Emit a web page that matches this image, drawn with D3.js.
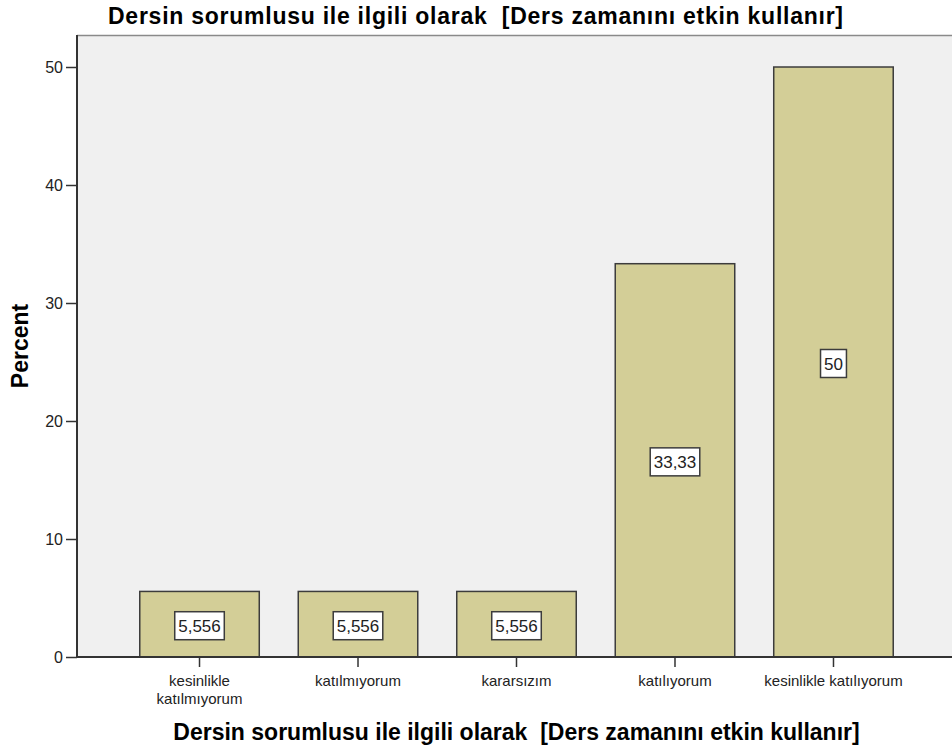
<!DOCTYPE html>
<html>
<head>
<meta charset="utf-8">
<script src="https://cdn.jsdelivr.net/npm/d3@7"></script>
<style>
  html, body { margin: 0; padding: 0; background: #fff; }
  svg { display: block; font-family: "Liberation Sans", Arial, sans-serif; }
  svg text { white-space: pre; }
</style>
</head>
<body>
<svg id="chart" width="952" height="753"></svg>
<script>
const categories = [["kesinlikle", "katılmıyorum"], ["katılmıyorum"], ["kararsızım"], ["katılıyorum"], ["kesinlikle katılıyorum"]];
const categoryKeys = ["kesinlikle katılmıyorum", "katılmıyorum", "kararsızım", "katılıyorum", "kesinlikle katılıyorum"];
const percentValues = [5.556, 5.556, 5.556, 33.33, 50];
const yTicks = [0, 10, 20, 30, 40, 50];
const chartTitle = "Dersin sorumlusu ile ilgili olarak  [Ders zamanını etkin kullanır]";
const xTitle = "Dersin sorumlusu ile ilgili olarak  [Ders zamanını etkin kullanır]";
const yTitle = "Percent";

const svg = d3.select("#chart");
const plot = { left: 77, top: 35, right: 956, bottom: 657 };

const x = d3.scaleBand().domain(categoryKeys).range([plot.left, plot.right])
  .paddingInner(0.246).paddingOuter(0.396);
const y = d3.scaleLinear().domain([0, 50]).range([plot.bottom, plot.bottom - 590]);

// plot background
svg.append("rect").attr("x", plot.left).attr("y", plot.top)
  .attr("width", 952 - plot.left + 5).attr("height", plot.bottom - plot.top)
  .attr("fill", "#f0f0f0");
// top frame
svg.append("line").attr("x1", plot.left).attr("x2", 952).attr("y1", plot.top + 0.5).attr("y2", plot.top + 0.5)
  .attr("stroke", "#8a8a8a").attr("stroke-width", 1.5);

// bars
svg.append("g").selectAll("rect").data(percentValues).join("rect")
  .attr("x", (d, i) => x(categoryKeys[i]))
  .attr("y", d => y(d))
  .attr("width", x.bandwidth())
  .attr("height", d => y(0) - y(d))
  .attr("fill", "#d3ce97")
  .attr("stroke", "#3c3c3c")
  .attr("stroke-width", 1.5);

// y axis
const yAxis = d3.axisLeft(y).tickValues(yTicks).tickSize(11).tickPadding(3).tickFormat(d3.format("d"));
const gy = svg.append("g").attr("transform", `translate(${plot.left},0)`).call(yAxis);
gy.select(".domain").attr("d", `M0,${plot.top}V${plot.bottom}`).attr("stroke", "#333").attr("stroke-width", 2);
gy.selectAll(".tick line").attr("stroke", "#333").attr("stroke-width", 1.5);
gy.selectAll(".tick text").attr("font-size", 16).attr("fill", "#222")
  .attr("font-family", "'Liberation Sans', Arial, sans-serif");

// x axis
const xAxis = d3.axisBottom(x).tickSize(10).tickFormat(() => "");
const gx = svg.append("g").attr("transform", `translate(0,${plot.bottom})`).call(xAxis);
gx.select(".domain").attr("d", `M${plot.left},0H952`).attr("stroke", "#333").attr("stroke-width", 2);
gx.selectAll(".tick line").attr("stroke", "#333").attr("stroke-width", 1.5);
gx.selectAll(".tick").each(function(d, i) {
  const t = d3.select(this).select("text");
  t.attr("y", null).attr("dy", null).attr("font-size", 15).attr("fill", "#222")
   .attr("font-family", "'Liberation Sans', Arial, sans-serif");
  categories[i].forEach((line, j) => {
    t.append("tspan").attr("x", 0).attr("y", 29 + j * 17.5).text(line);
  });
});

// value label boxes
const fmt = v => d3.format(".4~g")(v).replace(".", ",");
const lg = svg.append("g");
percentValues.forEach((v, i) => {
  const cx = x(categoryKeys[i]) + x.bandwidth() / 2;
  const cy = (y(v) + y(0)) / 2 + 1.5;
  const g = lg.append("g");
  const rect = g.append("rect");
  const txt = g.append("text").attr("x", cx).attr("y", cy + 6)
    .attr("text-anchor", "middle").attr("font-size", 17).attr("fill", "#222").text(fmt(v));
  const w = txt.node().getComputedTextLength() + 7;
  rect.attr("x", cx - w / 2).attr("y", cy - 14).attr("width", w).attr("height", 28)
    .attr("fill", "#fff").attr("stroke", "#3c3c3c").attr("stroke-width", 1.5);
});

// titles
svg.append("text").attr("x", 475.5).attr("y", 24).attr("text-anchor", "middle")
  .attr("font-size", 23).attr("font-weight", "bold").attr("fill", "#000")
  .attr("textLength", 735).attr("lengthAdjust", "spacing").text(chartTitle);
svg.append("text").attr("x", (plot.left + plot.right) / 2).attr("y", 740).attr("text-anchor", "middle")
  .attr("font-size", 23).attr("font-weight", "bold").attr("fill", "#000").text(xTitle);
svg.append("text").attr("transform", `translate(28,${(plot.top + plot.bottom) / 2}) rotate(-90)`)
  .attr("text-anchor", "middle").attr("font-size", 23).attr("font-weight", "bold").attr("fill", "#000").text(yTitle);
</script>
</body>
</html>
